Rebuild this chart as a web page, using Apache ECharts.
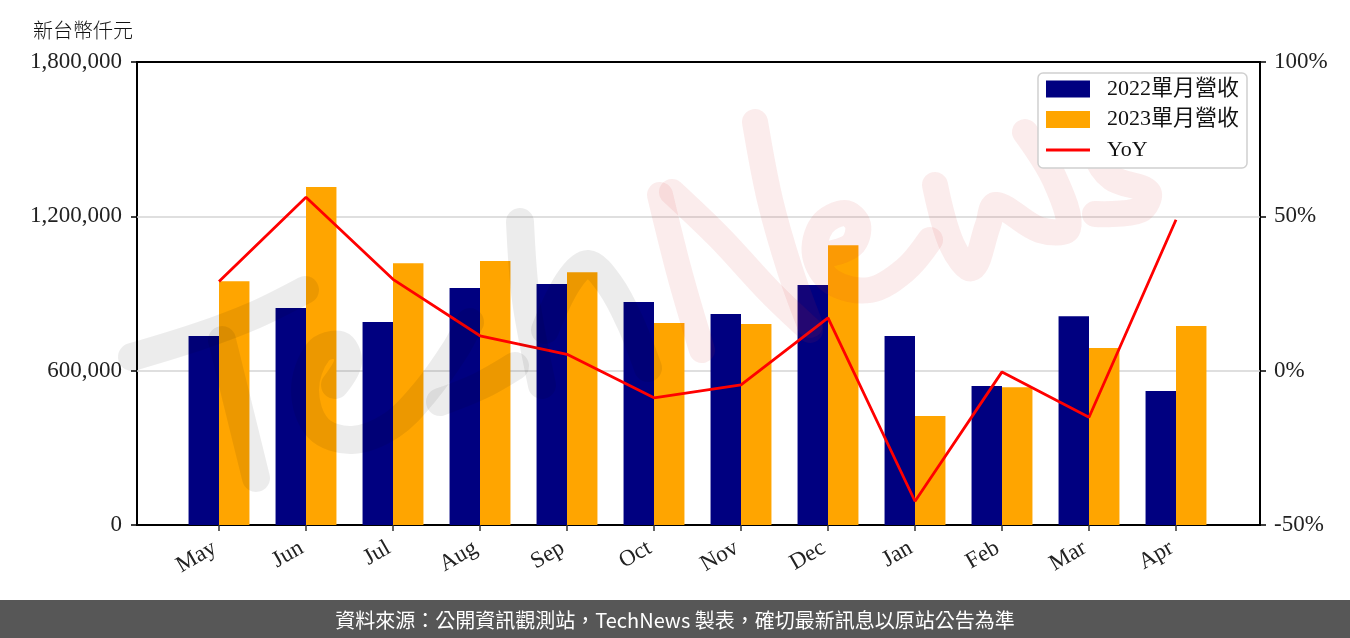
<!DOCTYPE html>
<html>
<head>
<meta charset="utf-8">
<script src="https://cdn.jsdelivr.net/npm/echarts@6/dist/echarts.min.js"></script>
<style>html,body{margin:0;padding:0;background:#fff}#c{width:1350px;height:638px}</style>
</head>
<body>
<div id="c"></div>
<script>
const categories = ['May','Jun','Jul','Aug','Sep','Oct','Nov','Dec','Jan','Feb','Mar','Apr'];
const rev2022 = [735000, 844000, 789000, 921000, 937000, 867000, 820000, 933000, 735000, 540000, 812000, 521000];
const rev2023 = [948000, 1314000, 1018000, 1026000, 983000, 785000, 781000, 1088000, 424000, 536000, 688000, 774000];
const yoy = [28.9, 56.2, 29.6, 11.3, 5.3, -8.8, -4.6, 17.1, -42.3, -0.4, -15.1, 48.9];
const leftTicks = {min: 0, max: 1800000, interval: 600000};
const rightTicks = {min: -50, max: 100, interval: 50};

const serif = '"Liberation Serif","Noto Sans CJK TC",serif';
const chart = echarts.init(document.getElementById('c'));
const fmtNum = v => v.toLocaleString('en-US');

// decorative watermark strokes (not data)
const grayStrokes = [
  [[132,357],[200,336],[255,315],[305,290]],
  [[222,340],[238,405],[256,478]],
  [[335,385],[348,362],[340,345],[318,352],[305,390],[318,428],[352,440],[392,425],[425,392],[455,350],[470,322]],
  [[440,402],[480,386],[515,366]],
  [[520,222],[526,300],[542,385]],
  [[545,330],[568,282],[588,264],[610,285],[630,322],[648,368]]
];
const pinkStrokes = [
  [[660,195],[680,275],[702,350]],
  [[672,192],[720,238],[770,292],[810,330]],
  [[755,122],[770,200],[790,270],[810,325]],
  [[825,255],[852,245],[858,225],[845,213],[822,225],[815,255],[832,282],[870,290],[905,270],[930,240]],
  [[935,185],[952,245],[972,268],[988,225],[996,205],[1040,230],[1068,228],[1055,180],[1025,132]],
  [[1150,132],[1120,132],[1098,155],[1112,178],[1148,192],[1140,210],[1095,214]]
];
const wm = [];
grayStrokes.forEach(p => wm.push({type: 'polyline', z: 50, silent: true, shape: {points: p, smooth: 0.35},
  style: {stroke: 'rgba(0,0,0,0.075)', lineWidth: 28, lineCap: 'round', lineJoin: 'round', fill: null}}));
pinkStrokes.forEach(p => wm.push({type: 'polyline', z: 50, silent: true, shape: {points: p, smooth: 0.35},
  style: {stroke: 'rgba(215,40,40,0.09)', lineWidth: 26, lineCap: 'round', lineJoin: 'round', fill: null}}));

chart.setOption({
  animation: false,
  title: {
    text: '新台幣仟元', left: 28, top: 15,
    textStyle: {fontFamily: '"Noto Sans CJK TC",sans-serif', fontWeight: 300, fontSize: 20, color: '#111'}
  },
  grid: [
    {left: 137, right: 90, top: 62, bottom: 113, show: true, borderColor: '#000', borderWidth: 2, backgroundColor: 'transparent'},
    {left: 175.5, right: 130.5, top: 62, bottom: 113}
  ],
  xAxis: [
    {gridIndex: 0, type: 'category', data: categories, axisLine: {show: false}, axisTick: {show: false}, axisLabel: {show: false}},
    {gridIndex: 1, type: 'category', data: categories, axisLine: {show: false},
     axisTick: {show: true, alignWithLabel: true, length: 6, lineStyle: {color: '#333', width: 1.5}},
     axisLabel: {rotate: 30, margin: 19, fontFamily: serif, fontSize: 23, color: '#222', padding: [0, 5, 0, 0]}}
  ],
  yAxis: [
    {gridIndex: 0, type: 'value', min: leftTicks.min, max: leftTicks.max, interval: leftTicks.interval,
     axisLine: {show: false}, axisTick: {show: true, length: 6, lineStyle: {color: '#000', width: 1.5}},
     axisLabel: {formatter: fmtNum, fontFamily: serif, fontSize: 23, color: '#222', margin: 15},
     splitLine: {show: true, showMinLine: false, showMaxLine: false, lineStyle: {color: '#d4d4d4', width: 1.5}}},
    {gridIndex: 0, type: 'value', position: 'right', min: rightTicks.min, max: rightTicks.max, interval: rightTicks.interval,
     axisLine: {show: false}, axisTick: {show: true, length: 6, lineStyle: {color: '#000', width: 1.5}},
     axisLabel: {formatter: '{value}%', fontFamily: serif, fontSize: 23, color: '#222', margin: 14},
     splitLine: {show: false}},
    {gridIndex: 1, type: 'value', min: leftTicks.min, max: leftTicks.max, interval: leftTicks.interval, show: false, splitLine: {show: false}},
    {gridIndex: 1, type: 'value', min: rightTicks.min, max: rightTicks.max, interval: rightTicks.interval, show: false, splitLine: {show: false}}
  ],
  legend: {
    orient: 'vertical', right: 103, top: 73, z: 60,
    backgroundColor: '#fff', borderColor: '#d0d0d0', borderWidth: 1.5, borderRadius: 5,
    padding: [5, 8, 7, 8], itemWidth: 44, itemHeight: 17, itemGap: 8.5,
    textStyle: {fontFamily: serif, fontSize: 22, lineHeight: 22, color: '#111', padding: [0, 0, 0, 12]},
    data: [
      {name: '2022單月營收', icon: 'rect'},
      {name: '2023單月營收', icon: 'rect'},
      {name: 'YoY', icon: 'path://M0,0 L44,0 L44,3 L0,3 Z'}
    ]
  },
  series: [
    {name: '2022單月營收', type: 'bar', xAxisIndex: 1, yAxisIndex: 2, data: rev2022, barWidth: '35%', barGap: '0%', itemStyle: {color: '#000080'}},
    {name: '2023單月營收', type: 'bar', xAxisIndex: 1, yAxisIndex: 2, data: rev2023, barWidth: '35%', barGap: '0%', itemStyle: {color: '#FFA500'}},
    {name: 'YoY', type: 'line', xAxisIndex: 1, yAxisIndex: 3, data: yoy, symbol: 'none', lineStyle: {color: '#FF0000', width: 2.8}, itemStyle: {color: '#FF0000'}, z: 5}
  ],
  graphic: wm.concat([
    {type: 'rect', left: 0, bottom: 0, z: 100, shape: {width: 1350, height: 38}, style: {fill: '#575757'}},
    {type: 'text', left: 'center', bottom: 8, z: 101,
     style: {text: '資料來源：公開資訊觀測站，TechNews 製表，確切最新訊息以原站公告為準', fill: '#fff', fontSize: 20,
             fontFamily: '"Noto Sans CJK TC",sans-serif'}}
  ])
});
</script>
</body>
</html>
